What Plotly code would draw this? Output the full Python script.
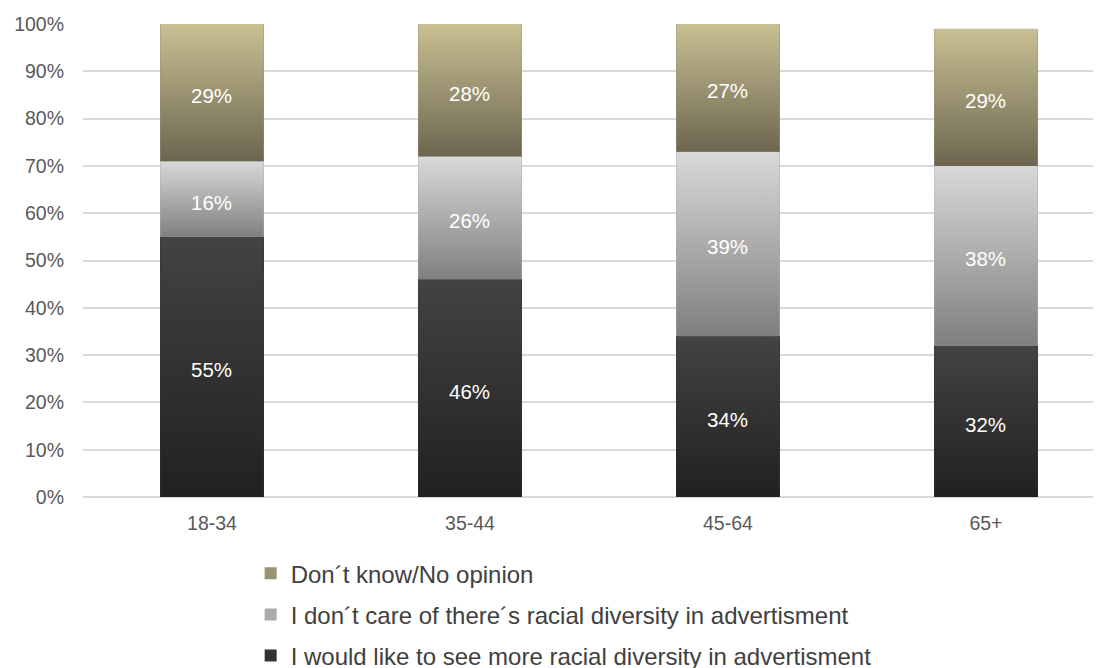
import plotly.graph_objects as go

# Age groups and survey shares (percent)
age_groups = ["18-34", "35-44", "45-64", "65+"]
would_like = [55, 46, 34, 32]
dont_care = [16, 26, 39, 38]
dont_know = [29, 28, 27, 29]

series_names = [
    "I would like to see more racial diversity in advertisment",
    "I don´t care of there´s racial diversity in advertisment",
    "Don´t know/No opinion",
]
series_values = [would_like, dont_care, dont_know]
# (bottom colour, top colour) of each segment's vertical gradient
series_gradients = [
    ("#212121", "#434343"),
    ("#7f7f7f", "#d9d9d9"),
    ("#6c6650", "#c9c093"),
]
series_mid = ["#333333", "#ababab", "#9a9270"]

BAR_WIDTH = 0.40
xs = list(range(len(age_groups)))
FONT = "Liberation Sans, Arial"

fig = go.Figure()

# Plain stacked bars (also supply the legend entries)
for i, (name, vals) in enumerate(zip(series_names, series_values)):
    fig.add_trace(go.Bar(
        x=xs, y=vals, name=name, width=BAR_WIDTH,
        marker=dict(color=series_mid[i], line=dict(width=0)),
        legendgroup=f"g{i}", legendrank=100 - i, hoverinfo="skip",
    ))

# Gradient-filled overlays for each stacked segment, plus value labels
base = [0] * len(age_groups)
for i, vals in enumerate(series_values):
    lo_c, hi_c = series_gradients[i]
    for j, v in enumerate(vals):
        b, t = base[j], base[j] + v
        x0, x1 = xs[j] - BAR_WIDTH / 2, xs[j] + BAR_WIDTH / 2
        fig.add_trace(go.Scatter(
            x=[x0, x1, x1, x0, x0], y=[b, b, t, t, b],
            mode="lines", line=dict(width=0),
            fill="toself",
            fillgradient=dict(type="vertical", colorscale=[[0, lo_c], [1, hi_c]]),
            showlegend=False, hoverinfo="skip",
        ))
        fig.add_annotation(
            x=xs[j], y=(b + t) / 2, text=f"{v}%", showarrow=False,
            yshift=-3, font=dict(color="white", size=20.5, family=FONT),
        )
        base[j] = t

fig.update_layout(
    width=1103, height=668,
    margin=dict(l=83, r=10, t=24, b=171),
    paper_bgcolor="white", plot_bgcolor="white",
    barmode="stack",
    font=dict(family=FONT, size=19.5, color="#595959"),
    showlegend=True,
    legend=dict(
        orientation="v", traceorder="grouped",
        xref="paper", x=0.166, xanchor="left",
        yref="container", y=0.175, yanchor="top",
        font=dict(size=24, color="#404040"),
        itemwidth=30, itemclick=False, itemdoubleclick=False,
        tracegroupgap=7,
    ),
    xaxis=dict(
        range=[-0.5, 3.415], tickmode="array", tickvals=xs, ticktext=age_groups,
        showgrid=False, zeroline=False, showline=False, ticks="",
        ticklabelstandoff=12, fixedrange=True,
    ),
    yaxis=dict(
        range=[0, 100], tickmode="array", tickvals=list(range(0, 101, 10)),
        ticktext=[f"{v}%" for v in range(0, 101, 10)],
        showgrid=True, gridcolor="#d9d9d9", gridwidth=1.5,
        zeroline=True, zerolinecolor="#d9d9d9", zerolinewidth=1.5,
        showline=False, ticks="", ticklabelstandoff=18, fixedrange=True,
    ),
)

fig.write_html("out.html")
